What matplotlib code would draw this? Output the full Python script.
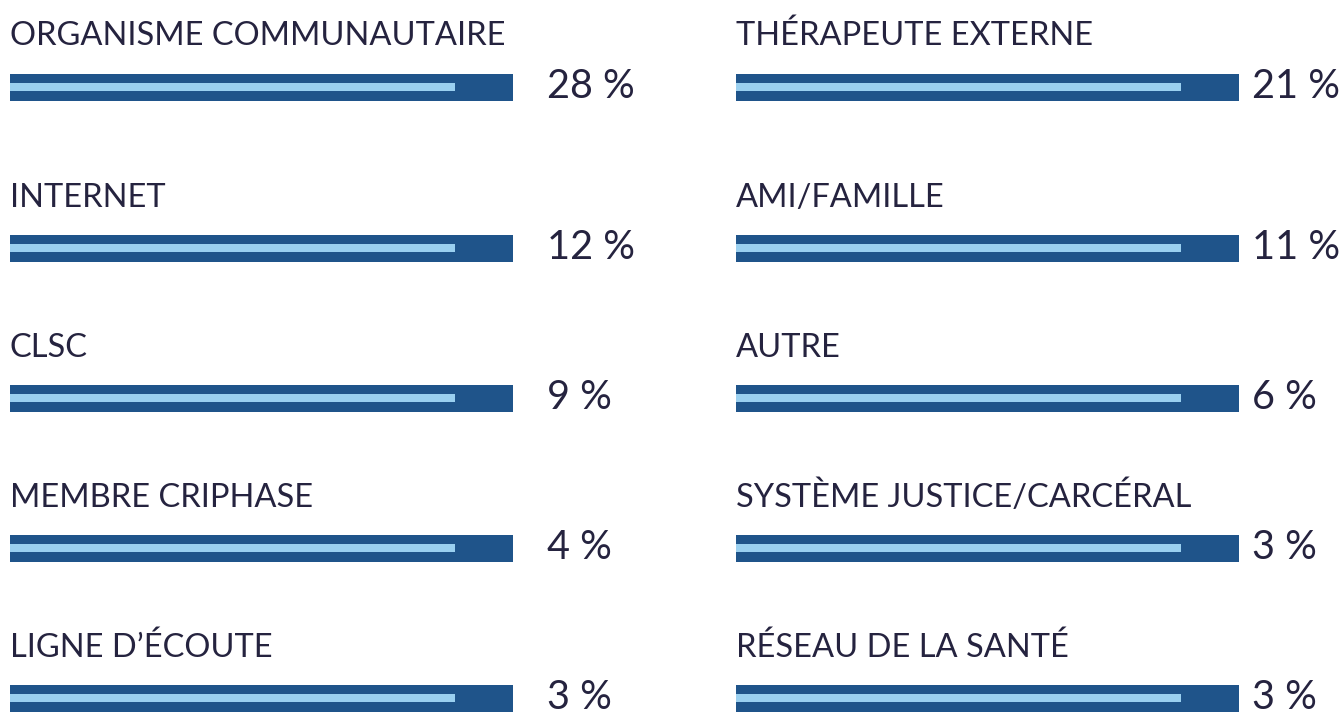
import matplotlib
matplotlib.use("Agg")
import matplotlib.pyplot as plt

# left column then right column, top to bottom
labels_left = ["ORGANISME COMMUNAUTAIRE", "INTERNET", "CLSC", "MEMBRE CRIPHASE", "LIGNE D\u2019\u00c9COUTE"]
values_left = [28, 12, 9, 4, 3]
labels_right = ["TH\u00c9RAPEUTE EXTERNE", "AMI/FAMILLE", "AUTRE",
                "SYST\u00c8ME JUSTICE/CARC\u00c9RAL", "R\u00c9SEAU DE LA SANT\u00c9"]
values_right = [21, 11, 6, 3, 3]

dark = "#1f548a"
light = "#9ad0f0"
txt = "#25233f"

plt.rcParams['font.family'] = ['Lato', 'DejaVu Sans']

fig = plt.figure(figsize=(13.41, 7.16), dpi=100)
ax = fig.add_axes([0, 0, 1, 1])
ax.set_xlim(0, 1341)
ax.set_ylim(716, 0)
ax.axis('off')

bar_y = [87.5, 248.5, 398.5, 548.5, 698.5]
label_y = [45, 207, 357, 507, 657]

for x0, pct_x, labels, vals in [(10, 547, labels_left, values_left),
                                (736, 1252, labels_right, values_right)]:
    # full track, same length for every row
    ax.barh(bar_y, [503] * len(vals), left=x0, height=27, color=dark)
    ax.barh([y - 0.5 for y in bar_y], [445] * len(vals), left=x0, height=8, color=light)
    for lab, v, by, ly in zip(labels, vals, bar_y, label_y):
        ax.text(x0, ly, lab, fontsize=23.5, color=txt, va='baseline', ha='left')
        ax.text(pct_x, by - 1, f"{v} %", fontsize=28.5,
                color=txt, va='center', ha='left')

fig.savefig("out.png", dpi=100)
